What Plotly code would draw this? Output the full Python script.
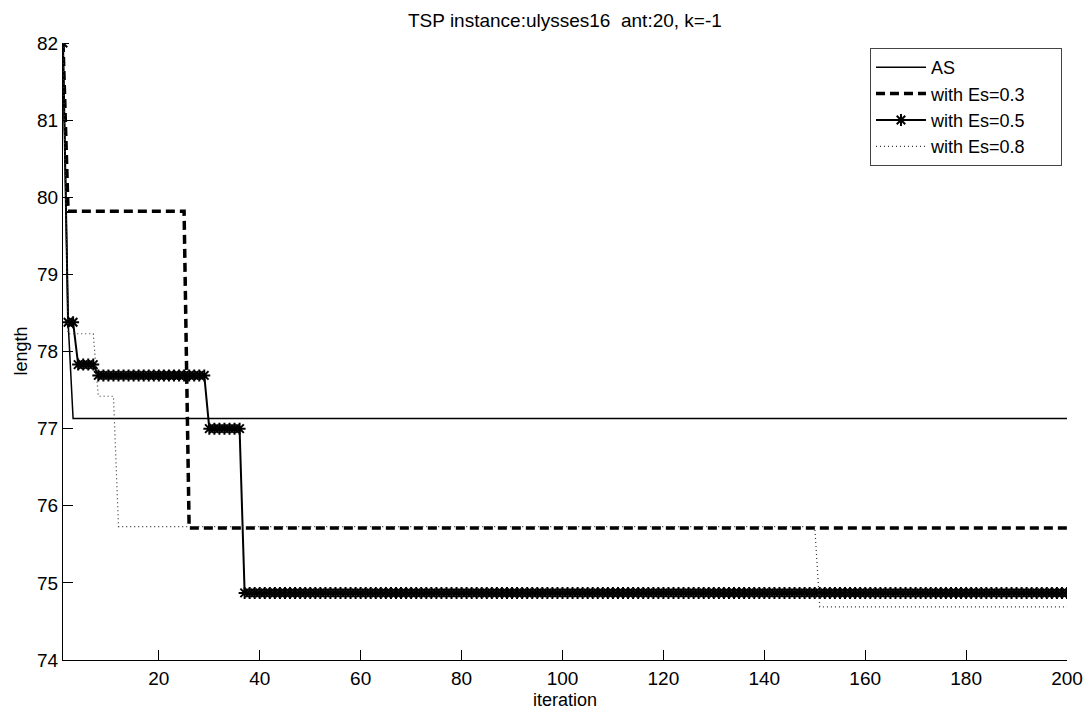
import plotly.graph_objects as go

# Iteration axis
iterations = list(range(1, 201))

# Each series is a staircase: (best tour length, number of iterations it holds)
as_steps = [(82.0, 1), (78.40, 1), (77.13, 198)]
es03_steps = [(82.0, 1), (79.82, 24), (75.71, 175)]
es05_steps = [(82.0, 1), (78.38, 2), (77.83, 4), (77.69, 22), (77.00, 7), (74.87, 164)]
es08_steps = [(82.0, 1), (78.23, 6), (77.42, 4), (75.73, 139), (74.69, 50)]

series_names = ["AS", "with Es=0.3", "with Es=0.5", "with Es=0.8"]

title_text = "TSP instance:ulysses16&nbsp;&nbsp;ant:20, k=-1"
x_ticks = [20, 40, 60, 80, 100, 120, 140, 160, 180, 200]
y_ticks = [74, 75, 76, 77, 78, 79, 80, 81, 82]


def expand(steps):
    out = []
    for value, count in steps:
        out.extend([value] * count)
    return out


FONT = "Liberation Sans, Arial, sans-serif"
# trailing blank space keeps the legend box as wide as the classic boxed legend
PAD = "&nbsp;" * 6

fig = go.Figure()

fig.add_trace(go.Scatter(
    x=iterations, y=expand(as_steps), name=series_names[0] + PAD, mode="lines",
    line=dict(color="black", width=1.5),
))
fig.add_trace(go.Scatter(
    x=iterations, y=expand(es03_steps), name=series_names[1] + PAD, mode="lines",
    line=dict(color="black", width=3.5, dash="9px,5px"),
))
fig.add_trace(go.Scatter(
    x=iterations, y=expand(es05_steps), name=series_names[2] + PAD, mode="lines+markers",
    line=dict(color="black", width=2),
    marker=dict(symbol="asterisk-open", size=10, color="black",
                line=dict(color="black", width=2)),
))
fig.add_trace(go.Scatter(
    x=iterations, y=expand(es08_steps), name=series_names[3] + PAD, mode="lines",
    line=dict(color="#333333", width=1.2, dash="1px,3px"),
))

axis_common = dict(
    showgrid=False, zeroline=False, showline=True, linecolor="black", linewidth=1,
    ticks="inside", ticklen=10, tickwidth=1, tickcolor="black", mirror=False,
    automargin=False,
    tickfont=dict(family=FONT, size=19, color="black"),
)

fig.update_layout(
    template="none",
    width=1086, height=709,
    margin=dict(l=63, r=19, t=43, b=49, autoexpand=False),
    paper_bgcolor="white", plot_bgcolor="white",
    font=dict(family=FONT, color="black"),
    xaxis=dict(range=[1, 200], tickvals=x_ticks, ticklabelstandoff=1, **axis_common),
    yaxis=dict(range=[74, 82], tickvals=y_ticks, **axis_common),
    showlegend=True,
    legend=dict(
        x=0.995, y=0.992, xanchor="right", yanchor="top",
        bgcolor="white", bordercolor="#444444", borderwidth=1,
        font=dict(family=FONT, size=18, color="black"),
        tracegroupgap=0, itemwidth=50,
    ),
    annotations=[
        dict(text=title_text, xref="paper", yref="paper", x=0.5, y=1,
             yshift=10, showarrow=False, xanchor="center", yanchor="bottom",
             font=dict(family=FONT, size=19, color="black")),
        dict(text="iteration", xref="paper", yref="paper", x=0.5, y=0,
             yshift=-40, showarrow=False, xanchor="center", yanchor="middle",
             font=dict(family=FONT, size=18, color="black")),
        dict(text="length", xref="paper", yref="paper", x=0, y=0.5,
             xshift=-43, showarrow=False, xanchor="center", yanchor="middle",
             textangle=-90, font=dict(family=FONT, size=18, color="black")),
    ],
)

fig.write_html("out.html")
